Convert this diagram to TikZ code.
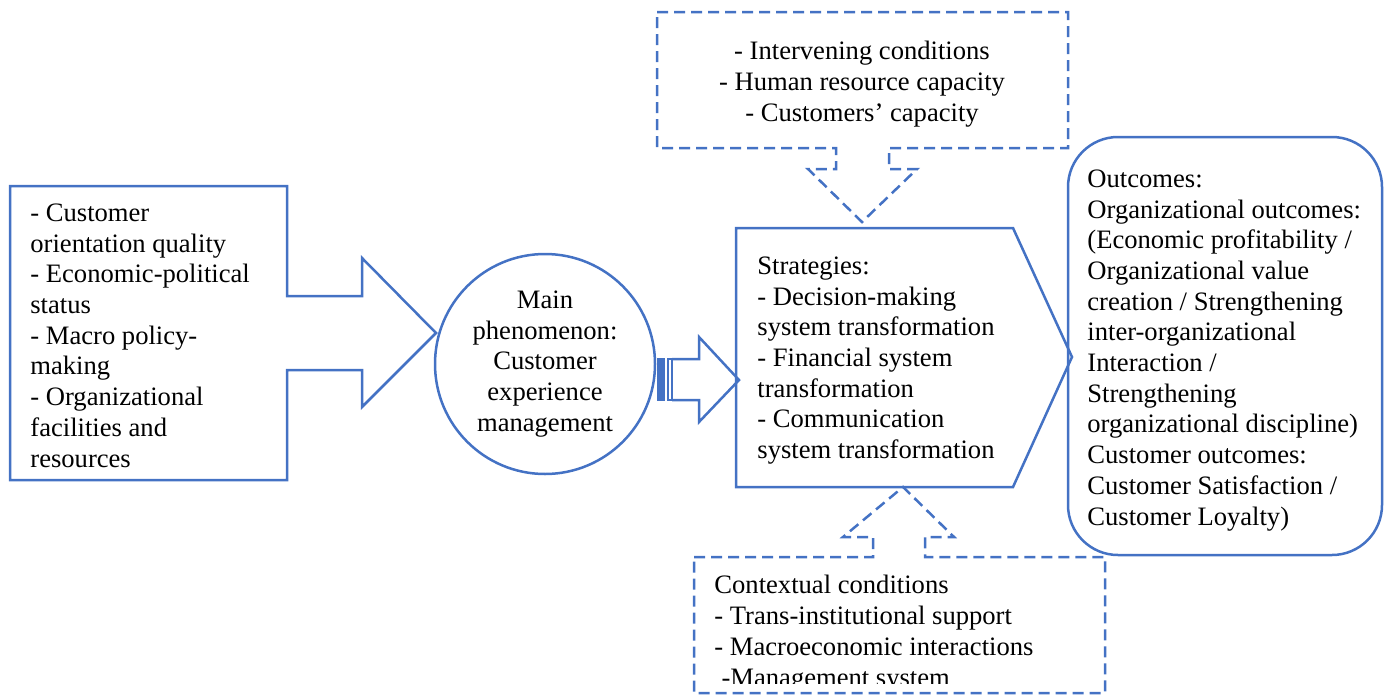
\documentclass[tikz,border=0pt]{standalone}
\usepackage{fontspec}
\setmainfont{Liberation Serif}
\definecolor{wordblue}{HTML}{4472C4}
\tikzset{
  outline/.style   = {draw=wordblue, line width=1.25pt, line join=miter},
  dashbox/.style   = {outline, dash pattern=on 5.5pt off 3pt},
  boxtext/.style   = {inner sep=0pt, font=\fontsize{13.3}{15.35}\selectfont},
  leftText/.style  = {boxtext, align=left, anchor=base west},
  midText/.style   = {boxtext, align=center}
}
\begin{document}
\begin{tikzpicture}[x=0.5pt, y=-0.5pt]
  \useasboundingbox (0,0) rectangle (1386,696);

  \draw [outline] (10,186) -- (287,186) -- (287,296) -- (362,296) -- (362,258) -- (436,333)
        -- (362,407) -- (362,370) -- (287,370) -- (287,480) -- (10,480) -- cycle;
  \node [leftText] (factors) at (30,467)
        {- Customer\\orientation quality\\- Economic-political\\status\\- Macro policy-\\making\\- Organizational\\facilities and\\resources};

  \node [outline, midText, circle, minimum size=110pt] (phenom) at (545,364)
        {Main\\phenomenon:\\Customer\\experience\\management};

  \filldraw [outline, fill=wordblue] (658,359) rectangle (664,400);
  \draw [outline] (668,359) rectangle (672,400);
  \draw [outline] (672,359) -- (699,359) -- (699,337) -- (739,380) -- (699,422) -- (699,400) -- (672,400);

  \draw [outline] (736,228) -- (1013,228) -- (1072,357) -- (1013,487) -- (736,487) -- cycle;
  \node [leftText] (strat) at (757,458.5)
        {Strategies:\\- Decision-making\\system transformation\\- Financial system\\transformation\\- Communication\\system transformation};

  \draw [outline, rounded corners=25pt] (1068,137) rectangle (1382,555);
  \node [leftText] (outcome) at (1087,525)
        {Outcomes:\\Organizational outcomes:\\(Economic profitability /\\Organizational value\\creation / Strengthening\\inter-organizational\\Interaction /\\Strengthening\\organizational discipline)\\Customer outcomes:\\Customer Satisfaction /\\Customer Loyalty)};

  \draw [dashbox] (657,12) -- (1068,12) -- (1068,148) -- (889,148) -- (889,169) -- (917,169) -- (862,222)
        -- (808,169) -- (836,169) -- (836,148) -- (657,148) -- cycle;
  \node [midText, anchor=base] (interv) at (862,121)
        {- Intervening conditions\\- Human resource capacity\\- Customers’ capacity};

  \draw [dashbox] (694,557) -- (873,557) -- (873,537) -- (843,537) -- (903,487) -- (954,537) -- (925,537)
        -- (925,557) -- (1105,557) -- (1105,693) -- (694,693) -- cycle;
  \begin{scope}
    \clip (696,559) rectangle (1103,683);
    \node [leftText] (context) at (714,686)
          {Contextual conditions\\- Trans-institutional support\\- Macroeconomic interactions\\\hspace{0.27em}-Management system};
  \end{scope}
\end{tikzpicture}
\end{document}
